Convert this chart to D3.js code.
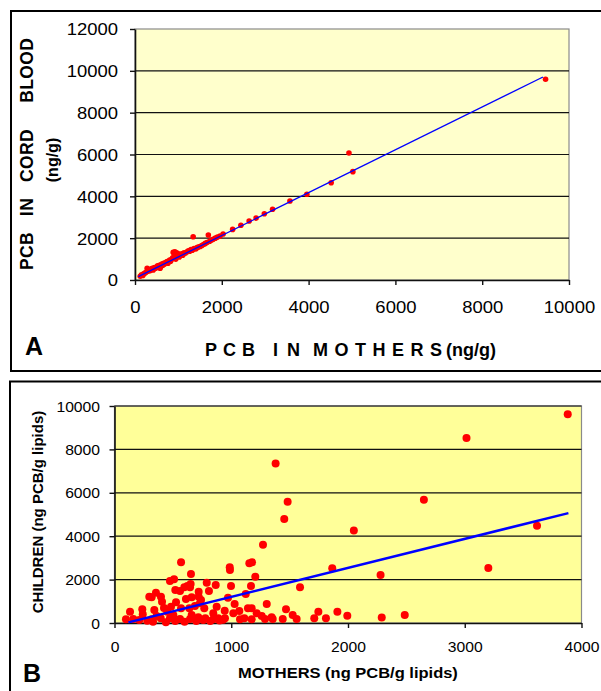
<!DOCTYPE html>
<html>
<head>
<meta charset="utf-8">
<script src="https://cdn.jsdelivr.net/npm/d3@7"></script>
<style>
  body { margin: 0; background: #fff; }
  text { font-family: "Liberation Sans", Arial, sans-serif; }
</style>
</head>
<body>
<div id="chart"></div>
<script>
// Panel A: PCB in mothers vs cord blood (ng/g)
const motherA = [120, 150, 180, 200, 230, 260, 280, 300, 320, 350, 370, 400, 420, 450, 470, 500, 520, 540, 560, 580,
  600, 620, 640, 660, 680, 700, 720, 740, 760, 780, 800, 820, 850, 870, 880, 900, 920, 940, 960, 980,
  1000, 1020, 1050, 1080, 1100, 1130, 1160, 1200, 1230, 1260, 1290, 1320, 1340, 1360, 1400, 1430, 1460, 1500, 1540, 1580,
  1620, 1660, 1690, 1720, 1760, 1800, 1850, 1900, 1960, 2030, 2250, 2440, 2630, 2790, 2980, 3170, 3570, 3960, 4520, 4930,
  5020, 9460];
const cordA = [180, 250, 220, 300, 330, 380, 560, 420, 500, 450, 520, 560, 480, 600, 560, 620, 680, 600, 700, 560,
  720, 760, 700, 800, 760, 820, 850, 880, 800, 900, 950, 900, 1000, 1060, 1320, 1100, 1350, 1000, 1300, 1150,
  1250, 1100, 1200, 1250, 1180, 1300, 1280, 1350, 1400, 1380, 1450, 1420, 2070, 1500, 1480, 1550, 1580, 1600, 1650, 1700,
  1750, 1790, 2150, 1850, 1900, 1950, 2000, 2050, 2100, 2200, 2420, 2620, 2820, 2960, 3170, 3380, 3780, 4100, 4650, 6070,
  5180, 9600];
const fitAX = [76, 9400];
const fitAY = [158, 9705];
const xTicksA = [0, 2000, 4000, 6000, 8000, 10000];
const yTicksA = [0, 2000, 4000, 6000, 8000, 10000, 12000];

// Panel B: mothers vs children (ng PCB/g lipids)
const motherB = [1483, 1454, 1272, 570, 1155, 1178, 987, 989, 1206, 1865, 655, 475, 510, 521, 561, 598, 624, 652, 647, 721,
  721, 790, 809, 867, 998, 1169, 972, 1124, 298, 318, 355, 398, 407, 612, 661, 741, 732, 484, 527, 424,
  133, 238, 242, 341, 361, 452, 504, 570, 641, 689, 769, 846, 875, 944, 1029, 1069, 1112, 1143, 1175, 1218,
  1261, 1304, 1346, 1355, 1289, 1175, 1075, 1018, 946, 889, 846, 778, 718, 661, 647, 561, 475, 396, 318, 212,
  161, 98, 1441, 1469, 1526, 1560, 1589, 1711, 1746, 1811, 1909, 1994, 3882, 3015, 1380, 2650, 2050, 3619, 3202, 2279,
  2486, 2289, 280, 330, 440, 520, 600, 700, 760, 820, 900, 930];
const childB = [5590, 4792, 3608, 2797, 2751, 2797, 2567, 2442, 2134, 2520, 2258, 1935, 2012, 1521, 1475, 1645, 1705, 1797, 1645, 1442,
  1212, 1857, 1475, 1751, 1705, 1705, 1166, 1336, 1212, 1184, 1396, 1212, 981, 1106, 1184, 1060, 908, 751, 954, 691,
  521, 631, 401, 599, 323, 521, 369, 677, 677, 783, 677, 447, 751, 567, 876, 553, 215, 677, 677, 447,
  323, 876, 261, 184, 184, 171, 171, 447, 215, 215, 171, 215, 261, 369, 184, 184, 215, 215, 171, 138,
  184, 171, 184, 631, 369, 184, 1645, 215, 521, 215, 521, 336, 9618, 8527, 7345, 5674, 4262, 4478, 2531, 2209,
  368, 258, 100, 60, 40, 90, 60, 90, 140, 90, 120, 150];
const fitBX = [119, 3888];
const fitBY = [28, 5062];
const xTicksB = [0, 1000, 2000, 3000, 4000];
const yTicksB = [0, 2000, 4000, 6000, 8000, 10000];

const W = 601, H = 691;
const SX = 1.12; // horizontal stretch of the original lettering

const svg = d3.select('#chart').append('svg')
  .attr('width', W)
  .attr('height', H)
  .style('display', 'block');

// outer frames
svg.append('rect').attr('x', 11).attr('y', 11).attr('width', 600).attr('height', 360)
  .attr('fill', 'none').attr('stroke', '#000').attr('stroke-width', 2);
svg.append('rect').attr('x', 10).attr('y', 381.5).attr('width', 600).attr('height', 320)
  .attr('fill', 'none').attr('stroke', '#000').attr('stroke-width', 2);

function drawPanel(c) {
  const x = d3.scaleLinear().domain([0, c.xTicks[c.xTicks.length - 1]]).range([c.left, c.right]);
  const y = d3.scaleLinear().domain([0, c.yTicks[c.yTicks.length - 1]]).range([c.bottom, c.top]);
  const g = svg.append('g');

  g.append('rect')
    .attr('x', c.left).attr('y', c.top)
    .attr('width', c.right - c.left).attr('height', c.bottom - c.top)
    .attr('fill', c.bg).attr('stroke', '#8a8a8a').attr('stroke-width', 1.2);

  // gridlines
  g.append('g').selectAll('line')
    .data(c.yTicks.filter(t => t > 0 && (c.topGrid || t < c.yTicks[c.yTicks.length - 1])))
    .join('line')
    .attr('x1', c.left).attr('x2', c.right)
    .attr('y1', d => y(d)).attr('y2', d => y(d))
    .attr('stroke', '#111').attr('stroke-width', 1.2);

  // axes
  const ya = g.append('g').attr('transform', `translate(${c.left},0)`)
    .call(d3.axisLeft(y).tickValues(c.yTicks).tickSize(5).tickSizeOuter(0).tickFormat(d3.format('d')));
  const xa = g.append('g').attr('transform', `translate(0,${c.bottom})`)
    .call(d3.axisBottom(x).tickValues(c.xTicks).tickSize(5).tickSizeOuter(0).tickFormat(d3.format('d')));
  [ya, xa].forEach(a => {
    a.select('.domain').attr('stroke', '#111').attr('stroke-width', 1.6);
    a.selectAll('.tick line').attr('stroke', '#111').attr('stroke-width', 1.4);
    a.selectAll('.tick text').attr('fill', '#000').attr('font-size', c.tickFont);
  });
  ya.selectAll('.tick text')
    .attr('x', -c.yLabelGap / SX).attr('dy', '0.36em')
    .attr('transform', `scale(${SX},1)`);
  xa.selectAll('.tick text')
    .attr('y', c.xLabelGap).attr('dy', '0.36em')
    .attr('transform', `scale(${SX},1)`);

  // points
  g.append('g').selectAll('circle')
    .data(c.xs.map((v, i) => [v, c.ys[i]]))
    .join('circle')
    .attr('cx', d => x(d[0]))
    .attr('cy', d => y(d[1]))
    .attr('r', c.dotR)
    .attr('fill', '#ff0000');

  // regression line
  g.append('path')
    .datum(c.fitX.map((v, i) => [v, c.fitY[i]]))
    .attr('d', d3.line().x(d => x(d[0])).y(d => y(d[1])))
    .attr('fill', 'none')
    .attr('stroke', '#0000ff')
    .attr('stroke-width', c.lineW);
}

drawPanel({
  left: 135, right: 569, top: 29, bottom: 280,
  xTicks: xTicksA, yTicks: yTicksA, bg: '#ffffcc', topGrid: false,
  xs: motherA, ys: cordA, fitX: fitAX, fitY: fitAY,
  dotR: 2.8, lineW: 1.3, tickFont: 16.5, yLabelGap: 17, xLabelGap: 27
});

drawPanel({
  left: 114.5, right: 581.5, top: 406, bottom: 623,
  xTicks: xTicksB, yTicks: yTicksB, bg: '#ffff99', topGrid: true,
  xs: motherB, ys: childB, fitX: fitBX, fitY: fitBY,
  dotR: 4, lineW: 2.5, tickFont: 14, yLabelGap: 14.5, xLabelGap: 23.7
});

// Panel A titles
svg.append('text')
  .attr('transform', 'translate(27,154) rotate(-90)')
  .attr('text-anchor', 'middle').attr('dy', '0.36em')
  .attr('font-size', 17.5).attr('font-weight', 'bold')
  .attr('textLength', 232).attr('lengthAdjust', 'spacing')
  .style('white-space', 'pre')
  .text('PCB   IN   CORD     BLOOD');
svg.append('text')
  .attr('transform', 'translate(52,160) rotate(-90)')
  .attr('text-anchor', 'middle').attr('dy', '0.36em')
  .attr('font-size', 16).attr('font-weight', 'bold')
  .text('(ng/g)');

// spaced-out axis title, one word at a time
const xtA = svg.append('text')
  .attr('y', 356)
  .attr('font-size', 18).attr('font-weight', 'bold');
[['PCB', 205, 50], ['IN', 273, 27], ['MOTHERS', 313, 129]].forEach(([w, x0, len]) => {
  xtA.append('tspan').attr('x', x0).attr('textLength', len).attr('lengthAdjust', 'spacing').text(w);
});
xtA.append('tspan').attr('x', 446).text('(ng/g)');

svg.append('text')
  .attr('x', 25).attr('y', 355)
  .attr('font-size', 25).attr('font-weight', 'bold')
  .text('A');

// Panel B titles
svg.append('text')
  .attr('transform', 'translate(38,512) rotate(-90)')
  .attr('text-anchor', 'middle').attr('dy', '0.36em')
  .attr('font-size', 15).attr('font-weight', 'bold')
  .text('CHILDREN (ng PCB/g lipids)');
svg.append('text')
  .attr('transform', `translate(348,673) scale(1.1,1)`)
  .attr('text-anchor', 'middle').attr('dy', '0.36em')
  .attr('font-size', 15).attr('font-weight', 'bold')
  .text('MOTHERS (ng PCB/g lipids)');
svg.append('text')
  .attr('x', 23).attr('y', 682)
  .attr('font-size', 25).attr('font-weight', 'bold')
  .text('B');
</script>
</body>
</html>
